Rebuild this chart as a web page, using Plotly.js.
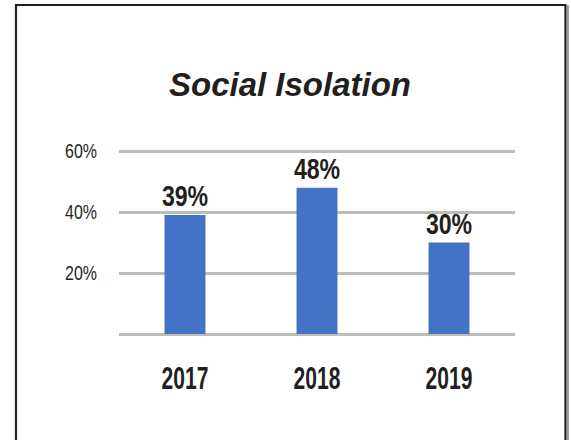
<!DOCTYPE html>
<html>
<head>
<meta charset="utf-8">
<script src="https://cdn.plot.ly/plotly-3.0.1.min.js"></script>
<style>
  html, body { margin: 0; padding: 0; background: #ffffff; }
  #chart { width: 571px; height: 440px; }
</style>
</head>
<body>
<div id="chart"></div>
<script>
// ---- data ----
const years = ['2017', '2018', '2019'];
const isolationPct = [39, 48, 30];
const yTickVals = [20, 40, 60];
const yTickText = yTickVals.map(v => v + '%');
const chartTitle = 'Social Isolation';

// ---- layout constants ----
const W = 571, H = 440;
const yMax = 61;
const M = { l: 119, r: 56, t: 148, b: 106 };
const plotW = W - M.l - M.r, plotH = H - M.t - M.b;
const px2x = px => (px - M.l) / plotW;
const px2y = py => (H - M.b - py) / plotH;

const textColor = '#231f20';
const sans = '"Liberation Sans", Arial, sans-serif';

const trace = {
  type: 'bar',
  x: years,
  y: isolationPct,
  marker: { color: '#4472c4' },
  text: isolationPct.map(v => v + '%'),
  textposition: 'outside',
  constraintext: 'none',
  cliponaxis: false,
  textfont: { family: sans, size: 30, weight: 700, color: textColor },
  hoverinfo: 'skip'
};

const layout = {
  width: W, height: H,
  margin: M,
  paper_bgcolor: '#ffffff',
  plot_bgcolor: '#ffffff',
  showlegend: false,
  bargap: 0.69,
  title: {
    text: '<b><i>' + chartTitle + '</i></b>',
    font: { family: sans, size: 33, color: textColor },
    xref: 'container', x: 290 / W, xanchor: 'center',
    yref: 'container', y: 1 - 84 / H, yanchor: 'middle'
  },
  xaxis: {
    type: 'category',
    showgrid: false,
    showline: false,
    zeroline: false,
    ticks: '',
    ticklabelstandoff: 23,
    tickfont: { family: sans, size: 31, weight: 700, color: textColor }
  },
  yaxis: {
    range: [0, yMax],
    tickmode: 'array',
    tickvals: yTickVals,
    ticktext: yTickText,
    showgrid: true,
    gridcolor: '#bcbcbc',
    gridwidth: 3,
    zeroline: true,
    zerolinecolor: '#bcbcbc',
    zerolinewidth: 3,
    showline: false,
    ticks: '',
    ticklabelstandoff: 21,
    tickfont: { family: sans, size: 21, color: textColor }
  },
  shapes: [
    { type: 'line', xref: 'paper', yref: 'paper',
      x0: px2x(568), x1: px2x(568), y0: px2y(5), y1: px2y(445),
      line: { color: '#a0a0a0', width: 2 } },
    { type: 'rect', xref: 'paper', yref: 'paper',
      x0: px2x(16), x1: px2x(565.5), y0: px2y(5), y1: px2y(445),
      line: { color: '#231f20', width: 2.2 }, fillcolor: 'rgba(0,0,0,0)' }
  ]
};

// Squeeze glyphs horizontally to imitate the condensed face of the original
function condense(root, selector, factor) {
  root.querySelectorAll(selector).forEach(el => {
    const w = el.getComputedTextLength();
    if (w > 0) {
      el.setAttribute('textLength', (w * factor).toFixed(2));
      el.setAttribute('lengthAdjust', 'spacingAndGlyphs');
    }
  });
}

Plotly.newPlot('chart', [trace], layout, { staticPlot: true, displayModeBar: false })
  .then(gd => {
    condense(gd, '.xtick text', 0.68);
    condense(gd, '.ytick text', 0.76);
    condense(gd, '.bartext', 0.77);
  });
</script>
</body>
</html>
